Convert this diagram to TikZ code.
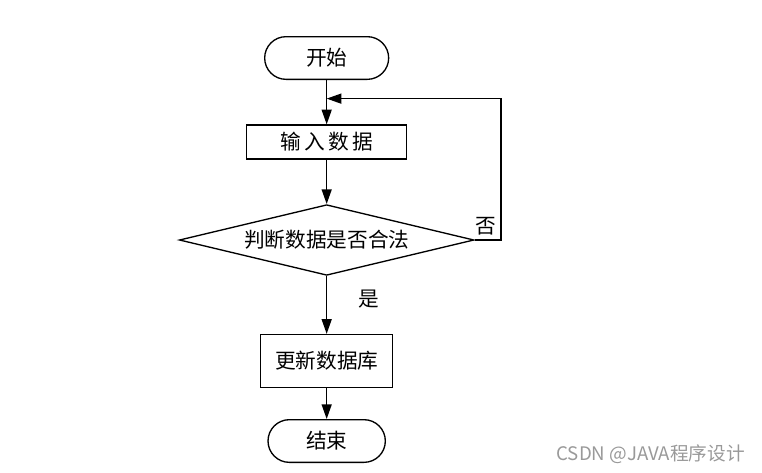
\documentclass[tikz,border=0pt]{standalone}
\usepackage{fontspec}
\setmainfont{Noto Sans CJK SC}
\usetikzlibrary{shapes.geometric,arrows.meta,positioning,calc}
\tikzset{node distance=2cm, auto, >={Triangle[length=11pt,width=7.5pt]},
  every node/.style={font=\fontsize{15.5pt}{18pt}\selectfont},
  term/.style={draw, rounded corners=16pt, minimum width=93pt, minimum height=32pt},
  proc/.style={draw, rectangle, minimum width=120pt, minimum height=25.5pt},
  decide/.style={draw, diamond, aspect=4, inner sep=0pt, minimum width=221pt, minimum height=53pt}}

\begin{document}
\begin{tikzpicture}[line width=1pt]
  \useasboundingbox (0,0) rectangle (571.5pt,-354pt);
  \node (start) [term] at (245pt,-43.5pt) {开始};
  \node (input) [proc, node distance=63pt, below of=start] {输\,入\,数\,据};
  \node (judge) [decide, node distance=73.5pt, below of=input] {判断数据是否合法};
  \node (update) [proc, minimum width=99pt, minimum height=39.75pt, node distance=90.75pt, below of=judge] {更新数据库};
  \node (end) [term, minimum width=88pt, node distance=60pt, below of=update] {结束};
  \coordinate (join) at ($(start.south)!0.42!(input.north)$);
  \coordinate (turn) at (375.75pt,-180pt);
  \draw[->] (start) to (input);
  \draw[->] (input) to (judge);
  \draw[->] (judge) to node [right=20pt, pos=0.4] {是} (update);
  \draw[->] (update) to (end);
  \draw[->] (judge.east) -- (turn) node [above left] {否} |- (join);
  \node (mark) [font=\fontsize{14pt}{16pt}\selectfont, text=gray!80] at (488pt,-341pt) {CSDN @JAVA程序设计};
\end{tikzpicture}
\end{document}
